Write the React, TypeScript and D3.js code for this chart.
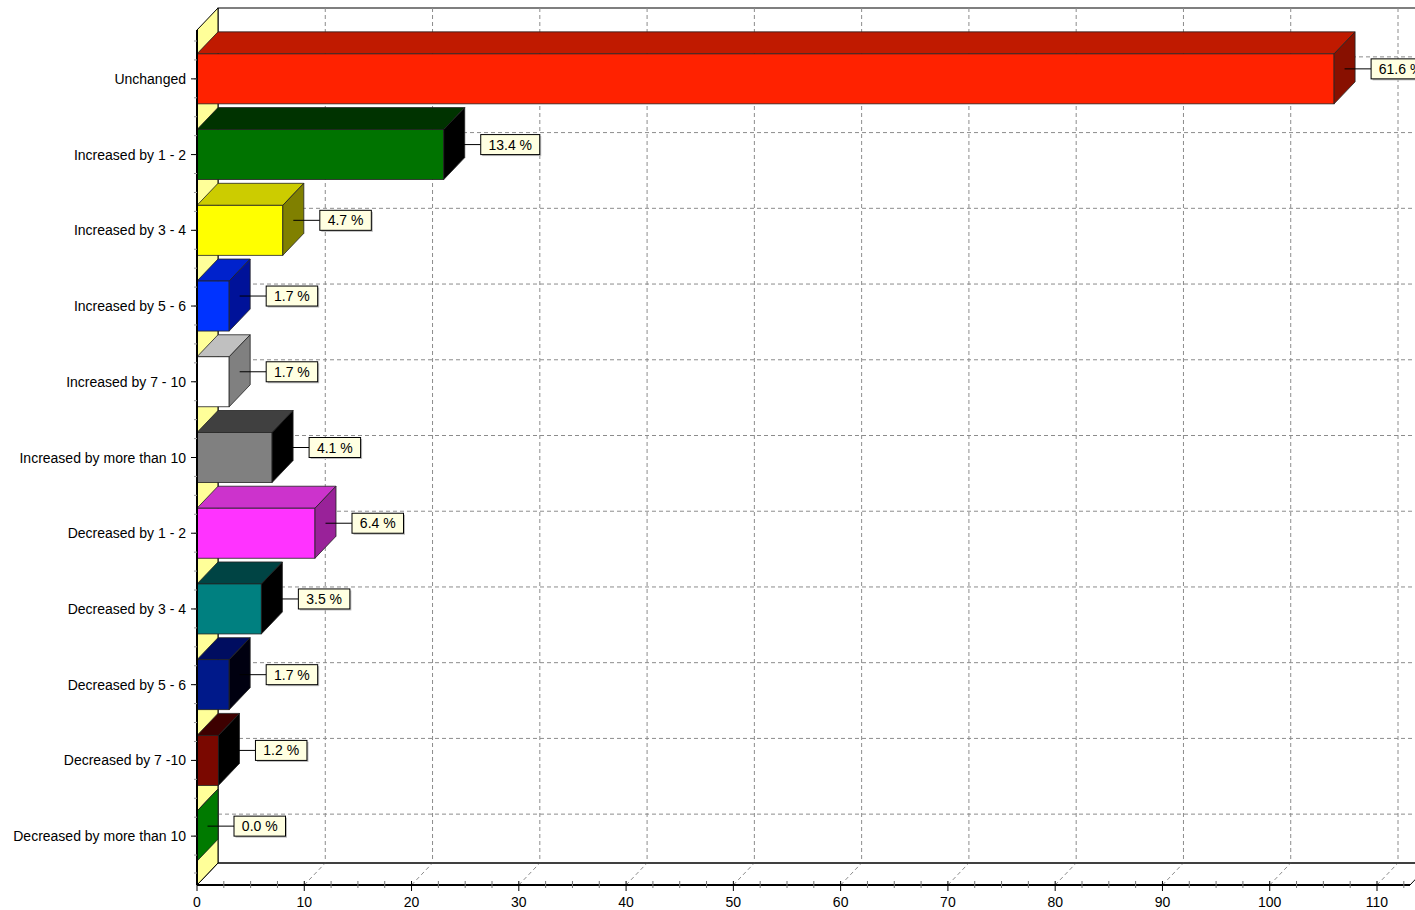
import React from 'react';
import * as d3 from 'd3';

// categories top to bottom, counts per category
const categories = [
  'Unchanged',
  'Increased by 1 - 2',
  'Increased by 3 - 4',
  'Increased by 5 - 6',
  'Increased by 7 - 10',
  'Increased by more than 10',
  'Decreased by 1 - 2',
  'Decreased by 3 - 4',
  'Decreased by 5 - 6',
  'Decreased by 7 -10',
  'Decreased by more than 10',
];
const counts = [106, 23, 8, 3, 3, 7, 11, 6, 3, 2, 0];
const percentLabels = ['61.6 %', '13.4 %', '4.7 %', '1.7 %', '1.7 %', '4.1 %', '6.4 %', '3.5 %', '1.7 %', '1.2 %', '0.0 %'];
const xTicks = [0, 10, 20, 30, 40, 50, 60, 70, 80, 90, 100, 110];

const frontColors = ['#ff2200', '#007300', '#ffff00', '#0033ff', '#ffffff', '#808080', '#ff33ff', '#008080', '#00198a', '#7a0800', '#007a00'];
const topColors = ['#c01a00', '#003300', '#cccc00', '#0022cc', '#c0c0c0', '#404040', '#cc33cc', '#004444', '#000d60', '#3d0000', '#007a00'];
const sideColors = ['#881000', '#000000', '#808000', '#001299', '#808080', '#000000', '#992299', '#000000', '#000010', '#000000', '#007a00'];

const W = 1415;
const H = 910;
const DX = 21; // 3D depth
const DY = 22;
const left = 197;
const bottom = 885;
const top = 30;
const axisEnd = 1410;

const App: React.FC = () => {
  const x = d3.scaleLinear().domain([0, 110]).range([left, 1377]);
  const y = d3.scaleBand<string>().domain(categories).range([41, 874]).padding(0);
  const bw = y.bandwidth();
  const barH = 50;
  const font = 'Liberation Sans, Arial, sans-serif';

  const minorX = d3.range(0, 112.6, 2.5).filter(v => v % 10 !== 0);
  const leftTicks: number[] = [];
  categories.forEach(c => {
    const s = y(c)!;
    for (let k = 0; k < 4; k++) leftTicks.push(s + (k * bw) / 4);
  });
  leftTicks.push(873);

  return (
    <svg width={W} height={H} style={{ position: 'absolute', left: 0, top: 0, background: '#fff' }}>
      {/* back wall */}
      <rect x={left + DX} y={top - DY} width={W} height={bottom - top} fill="#fff" stroke="#000" strokeWidth={1} />
      {/* vertical gridlines on back wall and floor */}
      {xTicks.filter(v => v > 0).map(v => (
        <g key={'gv' + v}>
          <line x1={x(v) + DX} x2={x(v) + DX} y1={top - DY} y2={bottom - DY} stroke="#8c8c8c" strokeDasharray="4,3" />
          <line x1={x(v)} x2={x(v) + DX} y1={bottom} y2={bottom - DY} stroke="#8c8c8c" strokeDasharray="4,3" />
        </g>
      ))}
      {/* horizontal gridlines on back wall */}
      {categories.map(c => {
        const cy = y(c)! + bw / 2 - DY;
        return <line key={'gh' + c} x1={left + DX} x2={W} y1={cy} y2={cy} stroke="#8c8c8c" strokeDasharray="4,3" />;
      })}
      {/* floor */}
      <polygon
        points={`${left},${bottom} ${left + DX},${bottom - DY} ${axisEnd + DX},${bottom - DY} ${axisEnd},${bottom}`}
        fill="none"
        stroke="#000"
      />
      {/* left wall */}
      <polygon
        points={`${left},${top} ${left + DX},${top - DY} ${left + DX},${bottom - DY} ${left},${bottom}`}
        fill="#ffff99"
        stroke="#000"
      />
      {/* bars */}
      {categories.map((c, i) => {
        const cy = y(c)! + bw / 2;
        const y0 = cy - barH / 2;
        const y1 = cy + barH / 2;
        const x0 = x(0);
        const x1 = x(counts[i]);
        const topFace = `${x0},${y0} ${x0 + DX},${y0 - DY} ${x1 + DX},${y0 - DY} ${x1},${y0}`;
        const sideFace = `${x1},${y0} ${x1 + DX},${y0 - DY} ${x1 + DX},${y1 - DY} ${x1},${y1}`;
        const lx = x1 + DX / 2;
        const ly = cy - DY / 2 + 1;
        const boxX = x1 + DX + 16;
        const boxW = percentLabels[i].length * 7.5 + 14;
        return (
          <g key={'b' + c}>
            <polygon points={topFace} fill={topColors[i]} stroke="#222" strokeWidth={0.8} />
            {counts[i] > 0 && (
              <rect x={x0} y={y0} width={x1 - x0} height={barH} fill={frontColors[i]} stroke="#222" strokeWidth={0.8} />
            )}
            <polygon points={sideFace} fill={sideColors[i]} stroke="#222" strokeWidth={0.8} />
            <line x1={lx} x2={boxX} y1={ly} y2={ly} stroke="#000" />
            <rect x={boxX + 1.5} y={ly - 8.5} width={boxW} height={20} fill="#bbb" />
            <rect x={boxX} y={ly - 10} width={boxW} height={20} fill="#ffffe1" stroke="#000" />
            <text x={boxX + boxW / 2} y={ly + 5} textAnchor="middle" fontFamily={font} fontSize={14} fill="#000">
              {percentLabels[i]}
            </text>
          </g>
        );
      })}
      {/* left axis */}
      <line x1={left} x2={left} y1={top} y2={bottom} stroke="#000" strokeWidth={2} />
      {leftTicks.map((t, i) => (
        <line key={'lt' + i} x1={left - 3} x2={left} y1={t} y2={t} stroke="#999" />
      ))}
      {categories.map(c => {
        const cy = y(c)! + bw / 2;
        return (
          <g key={'l' + c}>
            <line x1={left - 6} x2={left} y1={cy} y2={cy} stroke="#000" />
            <text x={186} y={cy + 5} textAnchor="end" fontFamily={font} fontSize={14} fill="#000">
              {c}
            </text>
          </g>
        );
      })}
      {/* bottom axis */}
      <line x1={left} x2={axisEnd} y1={bottom} y2={bottom} stroke="#000" strokeWidth={2} />
      {minorX.map(v => (
        <line key={'mx' + v} x1={x(v)} x2={x(v)} y1={bottom - 4} y2={bottom + 3} stroke="#777" />
      ))}
      {xTicks.map(v => (
        <g key={'xt' + v}>
          <line x1={x(v)} x2={x(v)} y1={bottom - 4} y2={bottom + 6} stroke="#000" />
          <text x={x(v)} y={bottom + 22} textAnchor="middle" fontFamily={font} fontSize={14} fill="#000">
            {v}
          </text>
        </g>
      ))}
    </svg>
  );
};

export default App;
